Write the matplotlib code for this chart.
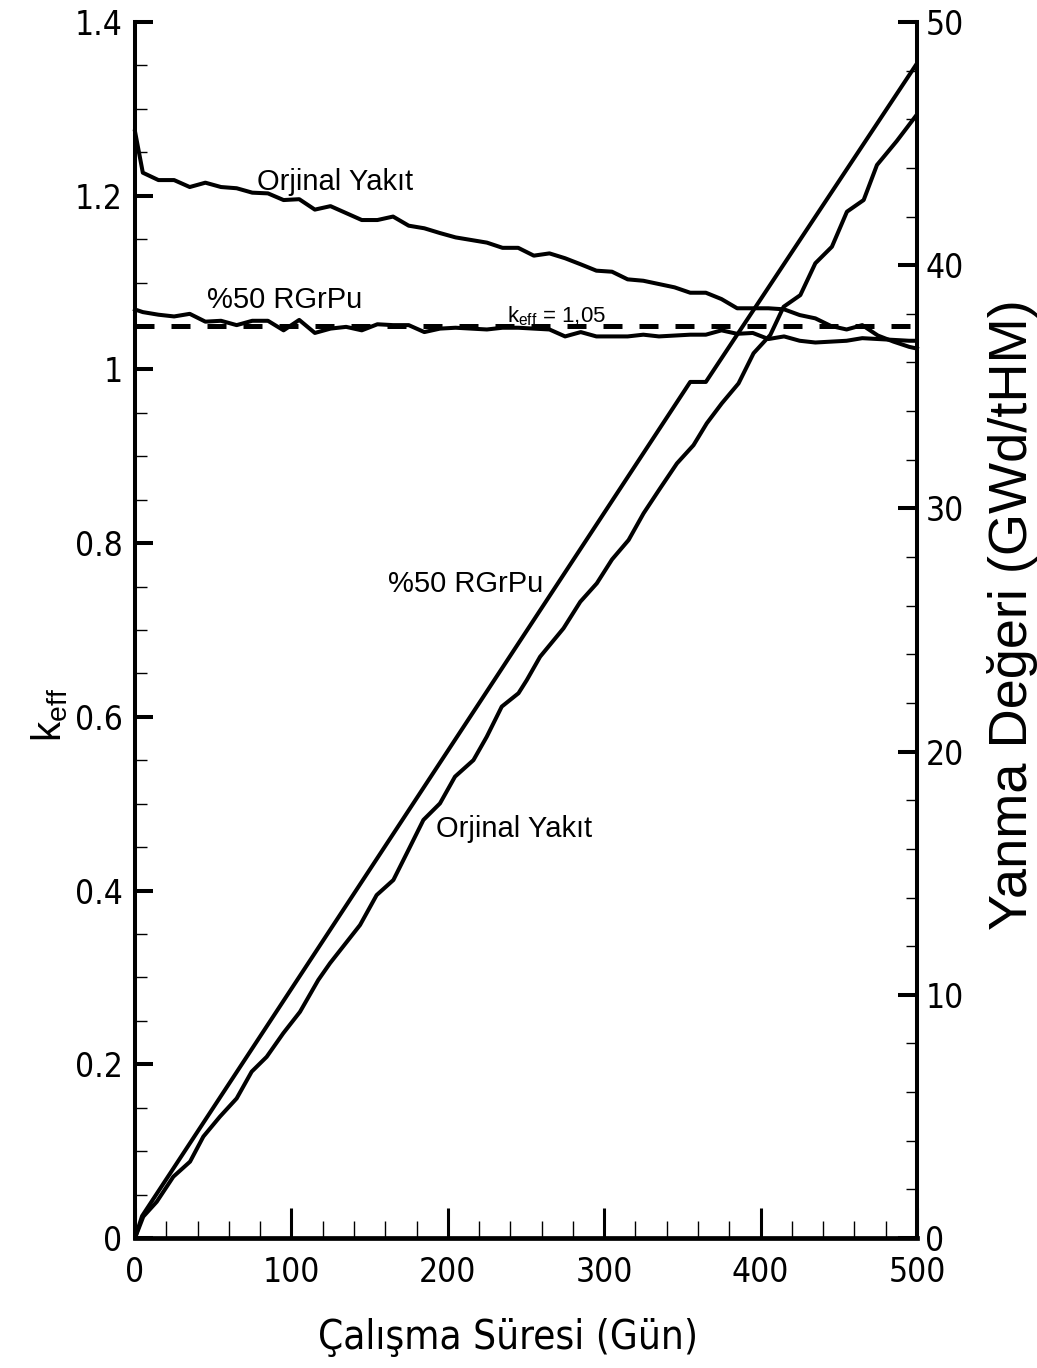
import os
import matplotlib
matplotlib.use('Agg')
import matplotlib.pyplot as plt
from matplotlib import font_manager
from matplotlib.font_manager import FontProperties
from matplotlib.ticker import MultipleLocator, FixedLocator, FixedFormatter

# ---- pick a condensed font if one is installed ----
narrow_path = None
prefs = ['LiberationSansNarrow-Regular', 'LiberationSansNarrow', 'DejaVuSansCondensed.ttf',
         'Condensed-Regular', 'Narrow']
files = [f.fname for f in font_manager.fontManager.ttflist]
for p in prefs:
    hits = [f for f in files if p.lower() in os.path.basename(f).lower()
            and 'bold' not in os.path.basename(f).lower()
            and 'oblique' not in os.path.basename(f).lower()
            and 'italic' not in os.path.basename(f).lower()]
    if hits:
        narrow_path = sorted(hits, key=len)[0]
        break

REG = 'Liberation Sans'


def nfont(size):
    if narrow_path:
        return FontProperties(fname=narrow_path, size=size)
    return FontProperties(family=REG, size=size * 0.88)


plt.rcParams['mathtext.fontset'] = 'custom'
plt.rcParams['mathtext.rm'] = REG
plt.rcParams['mathtext.it'] = REG

# ---------------- data ----------------
days_k = [0, 5, 15, 25, 35, 45, 55, 65, 75, 85, 95, 105, 115, 125, 135, 145, 155, 165,
          175, 185, 195, 205, 215, 225, 235, 245, 255, 265, 275, 285, 295, 305, 315,
          325, 335, 345, 355, 365, 375, 385, 395, 405, 415, 425, 435, 445, 455, 465,
          475, 485, 495, 500]
k_orjinal = [1.274, 1.2265, 1.218, 1.218, 1.210, 1.215, 1.210, 1.2086, 1.2035, 1.2027,
             1.195, 1.196, 1.184, 1.188, 1.180, 1.172, 1.172, 1.176, 1.1655, 1.1625,
             1.157, 1.152, 1.149, 1.146, 1.140, 1.140, 1.131, 1.1336, 1.128, 1.121,
             1.1137, 1.1125, 1.1037, 1.1021, 1.0983, 1.0945, 1.0883, 1.0883, 1.081,
             1.0704, 1.0704, 1.0704, 1.0692, 1.0626, 1.0588, 1.050, 1.046, 1.051,
             1.039, 1.032, 1.026, 1.024]
k_rgrpu = [1.069, 1.066, 1.063, 1.061, 1.064, 1.055, 1.056, 1.051, 1.056, 1.056, 1.045,
           1.057, 1.042, 1.047, 1.049, 1.045, 1.052, 1.051, 1.051, 1.043, 1.047, 1.048,
           1.047, 1.046, 1.048, 1.048, 1.047, 1.046, 1.038, 1.043, 1.038, 1.038, 1.038,
           1.040, 1.038, 1.039, 1.040, 1.040, 1.045, 1.041, 1.042, 1.035, 1.038, 1.033,
           1.031, 1.032, 1.033, 1.036, 1.035, 1.034, 1.033, 1.033]
k_limit = 1.05

days_bu_orj = [0, 5.3, 13.9, 24.5, 35.2, 43.7, 54.3, 65, 74.6, 84.2, 94.8, 105.5, 117.2,
               124.7, 143.9, 154.5, 165.2, 174.8, 184.4, 195, 204.6, 216.4, 224.9, 234.5,
               245.2, 250.5, 259, 274, 284.7, 295.3, 305, 315.6, 325.2, 335.8, 346.5,
               357.1, 365.6, 375.2, 385.9, 395.5, 406.2, 414.7, 425.4, 435, 445.6, 455.2,
               465.9, 474.4, 487, 500]
bu_orjinal = [0, 0.88, 1.49, 2.52, 3.14, 4.17, 4.99, 5.74, 6.84, 7.45, 8.42, 9.30, 10.61,
              11.3, 12.87, 14.1, 14.72, 15.95, 17.19, 17.87, 18.97, 19.65, 20.61, 21.85,
              22.4, 22.94, 23.9, 25.07, 26.16, 26.92, 27.9, 28.7, 29.8, 30.83, 31.85,
              32.6, 33.5, 34.32, 35.14, 36.38, 37.13, 38.29, 38.77, 40.08, 40.76, 42.2,
              42.68, 44.12, 45.1, 46.2]
days_bu_rgr = [0, 4.5, 355, 365, 500]
bu_rgrpu = [0, 0.9, 35.2, 35.2, 48.3]

ytick_vals = [0, 0.2, 0.4, 0.6, 0.8, 1.0, 1.2, 1.4]
ytick_labels = ['0', '0.2', '0.4', '0.6', '0.8', '1', '1.2', '1.4']

# ---------------- figure ----------------
W, H = 1037, 1368
fig = plt.figure(figsize=(W / 100, H / 100), dpi=100)
ax = fig.add_axes([135 / W, 1 - 1238 / H, (917 - 135) / W, (1238 - 22) / H])
ax2 = ax.twinx()

LW = 2.9
ax.plot(days_k, k_orjinal, color='black', lw=LW, clip_on=False)
ax.plot(days_k, k_rgrpu, color='black', lw=LW, clip_on=False)
ax.plot([0, 500], [k_limit, k_limit], color='black', lw=3.6,
        dashes=(3.8, 3.4), dash_capstyle='butt')
ax2.plot(days_bu_rgr, bu_rgrpu, color='black', lw=LW)
ax2.plot(days_bu_orj, bu_orjinal, color='black', lw=LW)

ax.set_xlim(0, 500)
ax.set_ylim(0, 1.4)
ax2.set_ylim(0, 50)

ax.xaxis.set_major_locator(MultipleLocator(100))
ax.xaxis.set_minor_locator(MultipleLocator(20))
ax.yaxis.set_major_locator(FixedLocator(ytick_vals))
ax.yaxis.set_major_formatter(FixedFormatter(ytick_labels))
ax.yaxis.set_minor_locator(MultipleLocator(0.05))
ax2.yaxis.set_major_locator(MultipleLocator(10))
ax2.yaxis.set_minor_locator(MultipleLocator(2))

for s in ['top', 'right']:
    ax.spines[s].set_visible(False)
for s in ['top', 'left', 'bottom']:
    ax2.spines[s].set_visible(False)
ax.spines['left'].set_linewidth(2.9)
ax.spines['bottom'].set_linewidth(3.4)
ax2.spines['right'].set_linewidth(2.9)

ax.tick_params(axis='y', which='major', direction='in', length=13, width=2.9, pad=9)
ax.tick_params(axis='y', which='minor', direction='in', length=8.5, width=1.0)
ax.tick_params(axis='x', which='major', direction='in', length=21.5, width=2.2, pad=13)
ax.tick_params(axis='x', which='minor', direction='in', length=12, width=1.0)
ax2.tick_params(axis='y', which='major', direction='in', length=14, width=2.9, pad=6)
ax2.tick_params(axis='y', which='minor', direction='in', length=8, width=1.0)

tick_fp = nfont(24)
for lab in ax.get_xticklabels() + ax.get_yticklabels() + ax2.get_yticklabels():
    lab.set_fontproperties(tick_fp)

# axis titles
fig.text(508 / W, 1 - 1338 / H, 'Çalışma Süresi (Gün)', fontproperties=nfont(29),
         ha='center', va='center')
fig.text(50 / W, 1 - 715 / H, r'k$_{\mathrm{eff}}$', family=REG, fontsize=29,
         rotation=90, ha='center', va='center')
fig.text(1012 / W, 1 - 615 / H, 'Yanma Değeri (GWd/tHM)', family=REG, fontsize=39,
         rotation=90, ha='center', va='center')


def px(x, y):
    return (x / W, 1 - y / H)


# annotations
fig.text(*px(257, 190), 'Orjinal Yakıt', family=REG, fontsize=21, ha='left', va='baseline')
fig.text(*px(207, 308), '%50 RGrPu', family=REG, fontsize=21, ha='left', va='baseline')
fig.text(*px(507, 322), r'k$_{\mathrm{eff}}$ = 1,05', family=REG, fontsize=16,
         ha='left', va='baseline')
fig.text(*px(388, 592), '%50 RGrPu', family=REG, fontsize=21, ha='left', va='baseline')
fig.text(*px(436, 837), 'Orjinal Yakıt', family=REG, fontsize=21, ha='left', va='baseline')

fig.savefig('out.png', dpi=100)
